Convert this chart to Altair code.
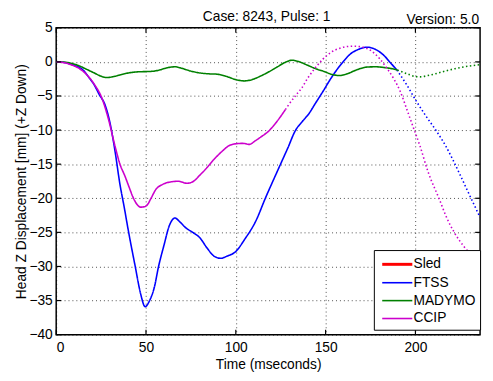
import altair as alt
import pandas as pd

# ---------------- data ----------------
SERIES = ["Sled", "FTSS", "MADYMO", "CCIP"]
COLORS = ["#ff0000", "#0000ff", "#008000", "#cc00cc"]
WIDTHS = [3, 1.6, 1.6, 1.6]

FTSS_T = [0, 5, 10, 15, 18, 21, 24, 27.2, 30, 32.7, 35.4, 38, 40, 44, 47, 49.5, 52, 54.6,
          57, 60, 63, 66.1, 69, 72, 76, 80, 84, 88, 91.6, 95, 100, 105, 111.2, 116.6,
          120.8, 124.9, 129, 133.1, 136.8, 140.4, 144.5, 148.6, 153, 156.8, 160, 164,
          168, 173.2, 178, 182.4, 186, 189.7]
FTSS_Z = [0, -0.1, -0.5, -1.2, -2.2, -3.3, -4.8, -6.3, -9, -13, -17.8, -21.5, -24.5, -30,
          -34, -35.9, -35, -33.1, -30, -26.9, -24, -22.9, -23.5, -24.3, -25, -25.8, -27.3,
          -28.5, -28.8, -28.5, -27.8, -26.0, -23.3, -19.9, -17.4, -15.0, -12.6, -10.1,
          -8.8, -7.7, -6.0, -4.3, -2.4, -0.96, 0.1, 1.2, 1.8, 2.16, 1.8, 0.96, -0.1, -1.2]
FTSS_T_EXT = [189.7, 195, 200.6, 206, 211.6, 217, 224.4, 229, 236]
FTSS_Z_EXT = [-1.2, -3.3, -5.8, -8, -10.1, -12.4, -16.3, -18.9, -22.8]

MADYMO_T = [0, 5, 9, 13, 17, 21, 25, 28.1, 32, 37, 42, 46, 50, 54.6, 58, 62, 66.4, 70, 75,
            80, 85, 89.3, 95, 100, 104.8, 109, 114, 118.5, 123, 127.6, 131.3, 135, 140, 145,
            149.5, 153, 157.7, 162, 167, 173.2, 178, 182.4, 186, 190]
MADYMO_Z = [0, -0.05, -0.25, -0.6, -1.1, -1.6, -2.1, -2.3, -2.15, -1.8, -1.55, -1.45, -1.42,
            -1.35, -1.15, -0.85, -0.72, -0.95, -1.35, -1.62, -1.75, -1.8, -2.15, -2.6, -2.79,
            -2.6, -2.05, -1.44, -0.75, -0.05, 0.24, 0.05, -0.5, -1.05, -1.44, -1.8, -2.0,
            -1.75, -1.2, -0.75, -0.72, -0.82, -0.95, -1.2]
MADYMO_T_EXT = [190, 195, 200, 202.4, 207, 211, 215.2, 222, 229, 236]
MADYMO_Z_EXT = [-1.2, -1.7, -2.15, -2.2, -2.0, -1.75, -1.44, -1.0, -0.65, -0.4]

CCIP_T = [0, 5, 8.9, 13, 18, 21.5, 25.4, 29, 32.7, 35.5, 38.2, 40.5, 42.7, 45, 46.9, 49,
          50.9, 53, 55.5, 59, 63.7, 68, 72.8, 76.5, 80, 84, 87.5, 92, 96.5, 100.2, 104,
          107.5, 111.2, 114, 118.5, 123, 127.6]
CCIP_Z = [0, -0.15, -0.48, -1, -2.16, -3.4, -5.28, -8.3, -12.3, -15.0, -16.7, -18.3, -19.8,
          -20.9, -21.3, -21.25, -20.9, -19.9, -18.7, -18, -17.6, -17.5, -17.8, -17.5, -16.6,
          -15.5, -14.4, -13.2, -12.25, -12.0, -11.95, -12.1, -11.5, -11.0, -10.1, -8.7, -7.0]
CCIP_T_EXT = [127.6, 129.4, 134, 136.7, 140, 144, 148.5, 153.2, 158, 162, 165.9, 170, 175.1,
              180, 184.2, 188, 191.5, 195, 198.8, 202.5, 207, 213.4, 217, 221.6, 227.1,
              231, 236]
CCIP_Z_EXT = [-7.0, -6.3, -4.7, -3.84, -2.4, -0.96, 0.4, 1.44, 2.0, 2.25, 2.3, 2.2, 1.68, 0.5,
              -0.96, -2.5, -4.3, -6.8, -9.6, -12.3, -16.1, -20.2, -22.6, -25.0, -27.1,
              -28.3, -29.6]

X_TICKS = [0, 50, 100, 150, 200]
Y_TICKS = [-40, -35, -30, -25, -20, -15, -10, -5, 0, 5]
X_DOMAIN = [0, 236]
Y_DOMAIN = [-40, 5]

TITLE = "Case: 8243, Pulse: 1"
VERSION = "Version: 5.0"
X_TITLE = "Time (mseconds)"
Y_TITLE = "Head Z Displacement [mm] (+Z Down)"

# ---------------- build table ----------------
rows = []
def add(name, seg, ts, zs):
    for i, (t, z) in enumerate(zip(ts, zs)):
        rows.append({"t": t, "z": z, "series": name, "seg": seg, "order": i})

add("FTSS", "solid", FTSS_T, FTSS_Z)
add("FTSS", "dotted", FTSS_T_EXT, FTSS_Z_EXT)
add("MADYMO", "solid", MADYMO_T, MADYMO_Z)
add("MADYMO", "dotted", MADYMO_T_EXT, MADYMO_Z_EXT)
add("CCIP", "solid", CCIP_T, CCIP_Z)
add("CCIP", "dotted", CCIP_T_EXT, CCIP_Z_EXT)
df = pd.DataFrame(rows)

W, H = 431, 312
FONT = "Liberation Sans"

xs = alt.Scale(domain=X_DOMAIN, nice=False, zero=False)
ys = alt.Scale(domain=Y_DOMAIN, nice=False, zero=False)
x_axis = alt.Axis(values=X_TICKS, tickCount=len(X_TICKS), title=X_TITLE, ticks=False,
                  labelPadding=6, titlePadding=3, domain=False, grid=True, labelOverlap=False)
y_axis = alt.Axis(values=Y_TICKS, tickCount=len(Y_TICKS), title=Y_TITLE, ticks=False,
                  labelPadding=4, titlePadding=0, domain=False, grid=True, labelOverlap=False)

lines = alt.Chart(df).mark_line(interpolate="monotone", clip=True).encode(
    x=alt.X("t:Q", scale=xs, axis=x_axis),
    y=alt.Y("z:Q", scale=ys, axis=y_axis),
    color=alt.Color("series:N", scale=alt.Scale(domain=SERIES, range=COLORS),
                    legend=alt.Legend(title=None)),
    strokeWidth=alt.StrokeWidth("series:N",
                                scale=alt.Scale(type="ordinal", domain=SERIES, range=WIDTHS),
                                legend=alt.Legend(title=None)),
    strokeDash=alt.StrokeDash("seg:N",
                              scale=alt.Scale(domain=["solid", "dotted"],
                                              range=[[1, 0], [1.5, 2.5]]),
                              legend=None),
    order="order:Q",
)

xt = pd.DataFrame({"v": X_TICKS})
yt = pd.DataFrame({"v": Y_TICKS})
tick_style = dict(color="black", strokeWidth=1.2)
xb = alt.Chart(xt).mark_rule(**tick_style).encode(
    x=alt.X("v:Q", scale=xs, axis=x_axis), y=alt.value(H), y2=alt.value(H - 5))
xtop = alt.Chart(xt).mark_rule(**tick_style).encode(
    x=alt.X("v:Q", scale=xs, axis=x_axis), y=alt.value(0), y2=alt.value(5))
yl = alt.Chart(yt).mark_rule(**tick_style).encode(
    y=alt.Y("v:Q", scale=ys, axis=y_axis), x=alt.value(0), x2=alt.value(5))
yr = alt.Chart(yt).mark_rule(**tick_style).encode(
    y=alt.Y("v:Q", scale=ys, axis=y_axis), x=alt.value(W), x2=alt.value(W - 5))

title_df = pd.DataFrame({"txt": [TITLE]})
ver_df = pd.DataFrame({"txt": [VERSION]})
title_mark = alt.Chart(title_df).mark_text(
    font=FONT, fontSize=14, align="center", baseline="alphabetic", color="black"
).encode(text="txt:N", x=alt.value(W / 2 - 1.5), y=alt.value(-6.5))
ver_mark = alt.Chart(ver_df).mark_text(
    font=FONT, fontSize=14, align="right", baseline="alphabetic", color="black"
).encode(text="txt:N", x=alt.value(W - 1), y=alt.value(-4))

chart = alt.layer(lines, xb, xtop, yl, yr, title_mark, ver_mark).properties(
    width=W, height=H,
    autosize="none",
    padding={"left": 49, "top": 17, "right": 5, "bottom": 44},
).configure_view(
    stroke="black", strokeWidth=1.5
).configure_axis(
    labelFont=FONT, labelFontSize=14, labelColor="black",
    titleFont=FONT, titleFontSize=14, titleColor="black", titleFontWeight="normal",
    gridColor="#000000", gridOpacity=0.7, gridDash=[1, 3], gridWidth=1,
).configure_legend(
    orient="none", legendX=323, legendY=226,
    fillColor="white", strokeColor="black", padding=4,
    symbolType="M-1.7,0H1.7", symbolSize=324, symbolOffset=9.3,
    rowPadding=1.2, labelOffset=6, labelFont=FONT, labelFontSize=14,
    labelColor="black", cornerRadius=0,
)

chart.save("out.html", embed_options={"renderer": "svg", "actions": False})
